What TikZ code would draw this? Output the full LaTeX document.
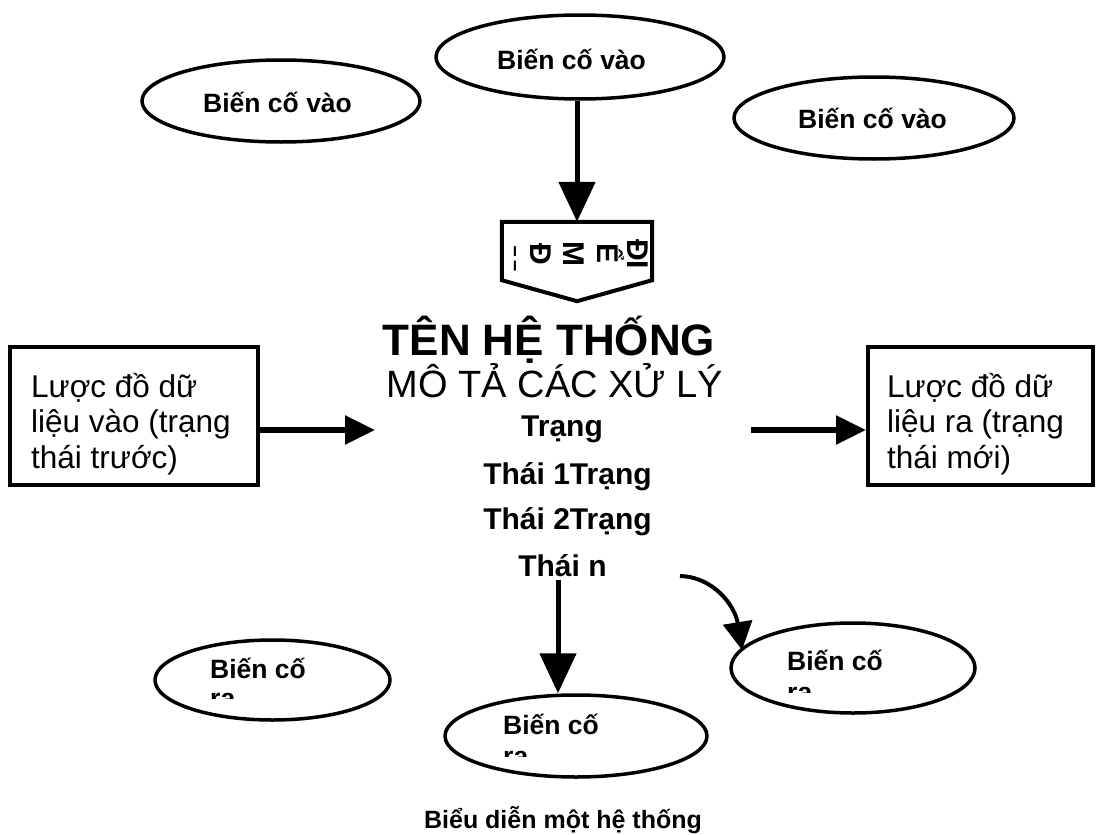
\documentclass[tikz,border=0pt]{standalone}
\usepackage{fontspec}
\setmainfont{Liberation Sans}
\usetikzlibrary{arrows.meta,shapes.geometric,calc}
\begin{document}
\begin{tikzpicture}[x=1pt,y=-1pt,
  evt/.style={ellipse,draw,line width=3.5pt,inner sep=0pt},
  evlabel/.style={font=\fontsize{26.5}{28.5}\selectfont\bfseries,inner sep=0pt,anchor=base west},
  databox/.style={draw,line width=4pt,inner sep=0pt},
  boxtxt/.style={font=\fontsize{31.5}{33.5}\selectfont,inner sep=0pt,anchor=base west},
  statetxt/.style={font=\fontsize{30}{32}\selectfont\bfseries,inner sep=0pt,anchor=base},
  glyph/.style={font=\fontsize{30}{32}\selectfont\bfseries,inner sep=0pt,rotate=-90},
  flowh/.style={line width=5.5pt,-{Triangle[length=30pt,width=28pt]}},
  flowv/.style={line width=5pt,-{Triangle[length=40pt,width=36pt]}},
  flowc/.style={line width=4pt,-{Triangle[length=28pt,width=29pt]}}
]
\useasboundingbox (0,0) rectangle (1104,835);

% input events
\node[evt,minimum width=278pt,minimum height=82pt] (evL) at (281,101) {};
\node[evt,minimum width=288pt,minimum height=84pt] (evT) at (580,57) {};
\node[evt,minimum width=280pt,minimum height=82pt] (evR) at (874,118) {};
\node[evlabel] (tL) at (203,112) {Biến cố vào};
\node[evlabel] (tT) at (497,69.3) {Biến cố vào};
\node[evlabel] (tR) at (798,128.3) {Biến cố vào};

% entry point marker
\node[minimum width=150pt,minimum height=58pt,inner sep=0pt] (pent) at (577,251) {};
\draw[line width=4pt,line join=miter]
  (pent.north west) -- (pent.north east) -- (pent.south east)
  -- ($(pent.south)+(0,21)$) -- (pent.south west) -- cycle;
\node[glyph] (g1) at (638,254) {ĐI};
\node[glyph] (g2) at (611,254) {Ể};
\node[glyph] (g3) at (574,254) {M};
\node[glyph] (g4) at (541,254) {Đ};
\node[font=\fontsize{26}{28}\selectfont,inner sep=0pt] (g5) at (515,259) {¦};

\draw[flowv] (pent.north |- evT.south) -- (pent.north);

% system description
\node[font=\fontsize{44}{48}\selectfont\bfseries,inner sep=0pt,anchor=base] (title) at (549,355) {TÊN HỆ THỐNG};
\node[font=\fontsize{38}{42}\selectfont,inner sep=0pt,anchor=base] (desc) at (555,397) {MÔ TẢ CÁC XỬ LÝ};
\node[statetxt] (s0) at (562,436.5) {Trạng};
\node[statetxt] (s1) at (567.5,484) {Thái 1Trạng};
\node[statetxt] (s2) at (567.5,529.5) {Thái 2Trạng};
\node[statetxt] (s3) at (562.5,576) {Thái n};

% data schemas
\node[databox,minimum width=248pt,minimum height=138pt] (boxL) at (134,416) {};
\node[boxtxt] (bl1) at (31,397) {Lược đồ dữ};
\node[boxtxt] (bl2) at (31,432.5) {liệu vào (trạng};
\node[boxtxt] (bl3) at (31,468) {thái trước)};
\node[databox,minimum width=225pt,minimum height=138pt] (boxR) at (980.5,416) {};
\node[boxtxt] (br1) at (887,397) {Lược đồ dữ};
\node[boxtxt] (br2) at (887,432.5) {liệu ra (trạng};
\node[boxtxt] (br3) at (887,468) {thái mới)};

\coordinate (inL) at (375,430);
\coordinate (outR) at (751,430);
\draw[flowh] (boxL.east |- inL) -- (inL);
\draw[flowh] (outR) -- (outR -| boxR.west);

% output events
\node[evt,minimum width=235pt,minimum height=80pt] (evBL) at (272.5,680) {};
\node[evt,minimum width=262pt,minimum height=82pt] (evBM) at (576,736) {};
\node[evt,minimum width=244pt,minimum height=90pt] (evBR) at (853,668) {};
\node[evlabel] (oL) at (210,678.3) {Biến cố};
\node[evlabel] (oM) at (503,734) {Biến cố};
\node[evlabel] (oR) at (787,670) {Biến cố};
\begin{scope}
  \clip (180,600) rectangle (400,698);
  \node[evlabel] (rL) at (210,707) {ra};
\end{scope}
\begin{scope}
  \clip (480,700) rectangle (700,756);
  \node[evlabel] (rM) at (503,765) {ra};
\end{scope}
\begin{scope}
  \clip (760,600) rectangle (980,692);
  \node[evlabel] (rR) at (787,701) {ra};
\end{scope}

\coordinate (sd) at (558,580);
\draw[flowv] (sd) -- (sd |- evBM.north);
\coordinate (cs) at (680,576);
\coordinate (ce) at (742,650);
\draw[flowc] (cs) .. controls (714,577) and (735,606) .. (ce);

% caption
\node[font=\fontsize{25}{28}\selectfont\bfseries,inner sep=0pt,anchor=base] (cap) at (563,828) {Biểu diễn một hệ thống};
\end{tikzpicture}
\end{document}
